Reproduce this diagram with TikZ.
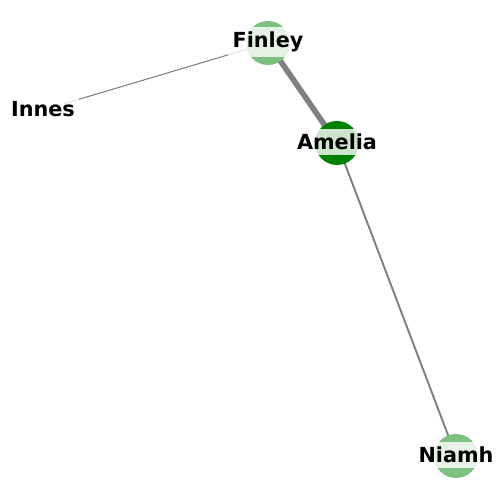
\documentclass[tikz,border=0pt]{standalone}
\usepackage{fontspec}
\setmainfont{DejaVu Sans}
\usetikzlibrary{backgrounds}
\definecolor{darkgreen}{HTML}{008000}
\definecolor{lightgreen}{HTML}{7FBF7F}
\definecolor{edgegray}{HTML}{808080}
\begin{document}
\begin{tikzpicture}[
        % style for the person circles
        person/.style={
            circle,
            minimum size=0.88cm,
            inner sep=0pt
        },
        % style for the name boxes
        namebox/.style={
            fill=white,
            fill opacity=0.8,
            text opacity=1,
            inner sep=2.6pt,
            font=\bfseries\fontsize{11.8}{12}\selectfont
        },
        % style for the links
        link/.style={
            draw=edgegray
        }
    ]
    % fix the page to the 500 x 500 frame
    \useasboundingbox (0,0) rectangle (10,10);

    % --- PEOPLE ---
    \node[person, fill=lightgreen] (finley) at (5.36, 9.14) {};
    \node[person, fill=darkgreen] (amelia) at (6.74, 7.14) {};
    \node[person, fill=white] (innes) at (0.86, 7.80) {};
    \node[person, fill=lightgreen] (niamh) at (9.12, 0.88) {};

    % --- LINKS (behind the circles) ---
    \begin{scope}[on background layer]
        \draw[link, line width=0.6pt] (finley.center) -- (innes.center);
        \draw[link, line width=3.2pt] (finley.center) -- (amelia.center);
        \draw[link, line width=1.1pt] (amelia.center) -- (niamh.center);
    \end{scope}

    % --- NAMES ---
    \node[namebox] (finleyname) at ([yshift=0.6pt]finley) {Finley};
    \node[namebox] (amelianame) at ([yshift=0.6pt]amelia) {Amelia};
    \node[namebox] (innesname) at ([yshift=0.6pt]innes) {Innes};
    \node[namebox] (niamhname) at ([yshift=0.6pt]niamh) {Niamh};
\end{tikzpicture}
\end{document}
